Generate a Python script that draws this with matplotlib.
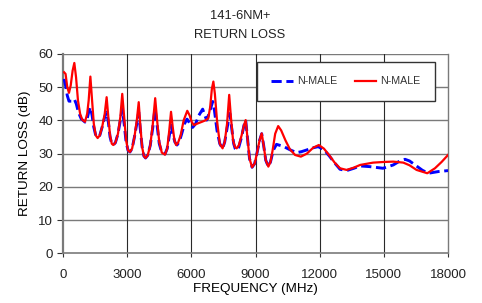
import matplotlib
matplotlib.use("Agg")
import matplotlib.pyplot as plt

# --- data (frequency MHz, return loss dB) ---
blue_freq = [50, 120, 200, 280, 400, 530, 620, 720, 850, 1030, 1130, 1200,
             1280, 1360, 1440, 1530, 1620, 1720, 1830, 1950, 2040, 2120, 2200,
             2280, 2350, 2450, 2570, 2680, 2770, 2860, 2950, 3040, 3130, 3230,
             3340, 3450, 3540, 3620, 3700, 3780, 3860, 3960, 4080, 4200, 4300,
             4400, 4500, 4620, 4770, 4870, 4960, 5050, 5130, 5230, 5330, 5430,
             5550, 5680, 5800, 5920, 6060, 6200, 6350, 6530, 6630, 6720, 6850,
             7000, 7080, 7200, 7330, 7460, 7560, 7680, 7800, 7880, 7980, 8050,
             8120, 8220, 8350, 8460, 8540, 8620, 8720, 8840, 8960, 9080, 9190,
             9290, 9380, 9480, 9600, 9700, 9830, 9980, 10300, 10600, 10920,
             11150, 11390, 11650, 11930, 12200, 12450, 12700, 12950, 13260,
             13600, 13890, 14330, 14960, 15440, 15750, 15990, 16200, 16460,
             16800, 17080, 17540, 18000]
blue_db = [52.5, 50.5, 47.5, 45.8, 45.8, 46.4, 45, 42.5, 40.5, 39.5, 40.5, 42.5,
           44, 41.5, 38, 35.5, 35, 35.5, 38, 41, 42.5, 39.5, 35,
           33, 32.6, 33.3, 36, 40, 43.5, 39, 33.5, 31, 30.5, 31.5,
           35, 39, 42.5, 37, 32, 29.3, 28.7, 29.5, 32.5, 38, 43.7,
           38.5, 33, 30.3, 29.9, 31.5, 35, 38.6, 36, 33.5, 32.6, 33.5,
           36, 39, 40.4, 39.2, 37.9, 39, 41.5, 43.4, 41.5, 40.1, 42.5,
           45.7, 43, 37, 33, 31.5, 33.5, 38, 42.1, 38, 33, 31.5,
           31, 32, 35, 38.5, 40.1, 35, 28.5, 25.9, 27, 30.5, 34,
           36, 32.5, 28, 26.1, 27.5, 31, 32.8, 32.2, 31.2, 30.3,
           30.6, 31.1, 31.7, 32.1, 31.2, 29.3, 27.2, 25.3, 24.9,
           25.6, 26.3, 26.1, 25.6, 26.6, 27.8, 28.3, 27.8, 26.6,
           25, 24.1, 24.6, 24.9]

red_freq = [50, 120, 200, 280, 360, 450, 530, 610, 700, 800, 900, 1030, 1130,
            1200, 1280, 1360, 1440, 1530, 1620, 1720, 1830, 1950, 2040, 2120,
            2200, 2280, 2350, 2450, 2570, 2680, 2770, 2860, 2950, 3040, 3130,
            3230, 3340, 3450, 3540, 3620, 3700, 3780, 3860, 3960, 4080, 4200,
            4310, 4400, 4500, 4620, 4770, 4870, 4960, 5050, 5130, 5210, 5290,
            5380, 5500, 5640, 5810, 5920, 6020, 6120, 6300, 6500, 6650, 6790,
            6880, 6960, 7030, 7100, 7200, 7330, 7460, 7560, 7670, 7770, 7850,
            7950, 8040, 8120, 8220, 8350, 8460, 8540, 8620, 8720, 8840, 8960,
            9080, 9190, 9290, 9380, 9480, 9600, 9700, 9800, 9920, 10060, 10200,
            10400, 10610, 10850, 11120, 11400, 11700, 11960, 12200, 12450,
            12700, 12950, 13260, 13600, 13890, 14500, 15000, 15440, 15910,
            16200, 16530, 17030, 17390, 17700, 18000]
red_db = [54.5, 54, 50, 48.3, 50.5, 55, 57.3, 53, 46, 42, 40.2, 39.6, 42,
          46, 53.2, 46, 39, 35.5, 34.7, 35.5, 38, 42, 47, 41,
          35.5, 33, 32.6, 33.3, 36, 41, 48, 41, 34, 31, 30.5,
          31.5, 35, 40, 45.5, 38, 32, 29.3, 28.7, 29.5, 32.5, 39,
          46.7, 40, 33.5, 30.3, 29.7, 31.5, 36.5, 42.6, 38, 34, 32.6,
          33.3, 35.5, 40, 42.9, 41.5, 39.5, 38.6, 39.1, 39.6, 40, 40.6,
          44, 49.5, 51.7, 48, 40, 33, 31.6, 33.5, 39, 47.7, 41,
          34, 32, 31.6, 32.5, 35.5, 38.5, 40.1, 35, 28.5, 25.9, 27,
          30.5, 34, 36.1, 32.5, 28, 26.1, 27.5, 31, 36, 38.3, 37,
          34, 31.3, 29.6, 29.1, 30, 31.8, 32.6, 31.5, 29.5,
          27.3, 25.6, 25.1, 25.8, 26.6, 27.3, 27.5, 27.6, 27.3,
          26.5, 25.1, 24.1, 25.6, 27.5, 29.6]

x_ticks = [0, 3000, 6000, 9000, 12000, 15000, 18000]
y_ticks = [0, 10, 20, 30, 40, 50, 60]
series_labels = ["N-MALE", "N-MALE"]

plt.rcParams["font.family"] = ["Liberation Sans", "DejaVu Sans"]
plt.rcParams["text.color"] = "#222222"

fig = plt.figure(figsize=(4.82, 3.03), dpi=100)
ax = fig.add_axes([0.1307, 0.164, 0.7988, 0.6578])

ax.plot(blue_freq, blue_db, color="#0000ff", lw=2.1, ls=(0, (3.5, 1.6)),
        label=series_labels[0], zorder=3)
ax.plot(red_freq, red_db, color="#ff0000", lw=1.6, label=series_labels[1],
        zorder=4)

ax.set_xlim(0, 18000)
ax.set_ylim(0, 60)
ax.set_xticks(x_ticks)
ax.set_yticks(y_ticks)

# grid: grey horizontals, dark verticals
for y in y_ticks[1:]:
    ax.axhline(y, color="#7a7a7a", lw=1.0, zorder=1)
for x in x_ticks[1:-1]:
    ax.axvline(x, color="#2a2a2a", lw=0.8, zorder=1)

for side in ["left", "bottom", "right"]:
    ax.spines[side].set_color("#7a7a7a")
ax.spines["left"].set_linewidth(1.6)
ax.spines["bottom"].set_linewidth(1.2)
ax.spines["right"].set_linewidth(1.0)
ax.spines["top"].set_visible(False)

ax.tick_params(axis="both", direction="out", length=4, width=0.8,
               color="#333333", labelsize=9.5, labelcolor="#222222", pad=3)
ax.tick_params(axis="x", length=3, pad=8)

ax.set_xlabel("FREQUENCY (MHz)", fontsize=9.7, labelpad=2)
ax.set_ylabel("RETURN LOSS (dB)", fontsize=9.7, labelpad=5)

fig.text(0.498, 0.947, "141-6NM+", ha="center", va="center", fontsize=9.3)
fig.text(0.498, 0.884, "RETURN LOSS", ha="center", va="center", fontsize=9.3)

leg = ax.legend(loc="upper left", bbox_to_anchor=(0.504, 0.96), ncol=2,
                frameon=True, fancybox=False, fontsize=7.7, handlelength=2.0,
                columnspacing=1.6, borderpad=1.35, handletextpad=0.4,
                borderaxespad=0)
leg.get_frame().set_edgecolor("#333333")
leg.get_frame().set_linewidth(1.0)
leg.get_frame().set_alpha(1)
for t in leg.get_texts():
    t.set_color("#333333")

fig.savefig("out.png", dpi=100)
